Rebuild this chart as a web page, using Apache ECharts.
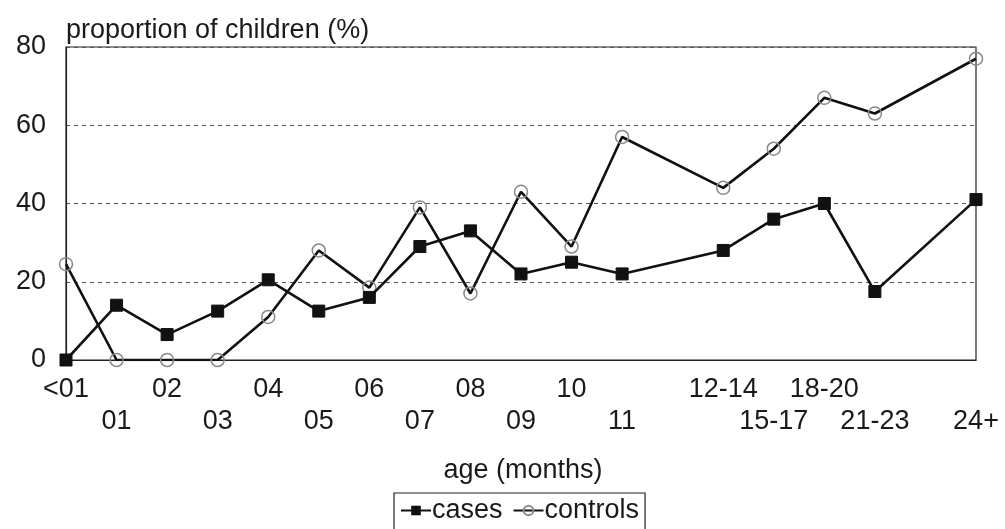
<!DOCTYPE html>
<html>
<head>
<meta charset="utf-8">
<script src="https://cdn.jsdelivr.net/npm/echarts@6/dist/echarts.min.js"></script>
<style>
  html, body { margin: 0; padding: 0; background: #fff; }
  #chart { width: 1005px; height: 529px; }
</style>
</head>
<body>
<div id="chart"></div>
<script>
// Age bands on the x axis; empty strings are unlabelled spacer slots
const ageBands = ['<01', '01', '02', '03', '04', '05', '06', '07', '08', '09', '10', '11',
                  '', '12-14', '15-17', '18-20', '21-23', '', '24+'];
// Proportion of children (%) per age band
const cases    = [0, 14, 6.5, 12.5, 20.5, 12.5, 16, 29, 33, 22, 25, 22,
                  null, 28, 36, 40, 17.5, null, 41];
const controls = [24.5, 0, 0, 0, 11, 28, 18.5, 39, 17, 43, 29, 57,
                  null, 44, 54, 67, 63, null, 77];
const yTicks = [0, 20, 40, 60, 80];

// labels drawn on the second (lower) row under the axis
const lowerRow = new Set(['01', '03', '05', '07', '09', '11', '15-17', '21-23', '24+']);

const font = '"Liberation Sans", Arial, sans-serif';
const ink = '#1a1a1a';

const chart = echarts.init(document.getElementById('chart'), null, { renderer: 'canvas' });
chart.setOption({
  backgroundColor: '#fff',
  animation: false,
  textStyle: { fontFamily: font, color: ink },
  grid: {
    left: 66, right: 29, top: 47, bottom: 169,
    show: true, borderColor: '#222', borderWidth: 1.2, backgroundColor: 'transparent'
  },
  xAxis: {
    type: 'category',
    data: ageBands,
    boundaryGap: false,
    name: 'age (months)',
    nameLocation: 'middle',
    nameGap: 97,
    nameTextStyle: { fontSize: 27, color: ink, fontFamily: font, padding: [0, 0, 0, 4] },
    axisLine: { show: true, lineStyle: { color: '#222', width: 1.2 } },
    axisTick: { show: false },
    splitLine: { show: false },
    axisLabel: {
      interval: 0,
      margin: 14,
      fontSize: 27,
      lineHeight: 32,
      color: ink,
      fontFamily: font,
      formatter: function (v) { return lowerRow.has(v) ? '\n' + v : v; }
    }
  },
  yAxis: {
    type: 'value',
    min: yTicks[0],
    max: yTicks[yTicks.length - 1],
    interval: 20,
    name: 'proportion of children (%)',
    nameLocation: 'end',
    nameGap: 16,
    nameTextStyle: { fontSize: 27, color: ink, fontFamily: font, align: 'left', verticalAlign: 'middle' },
    axisLine: { show: true, lineStyle: { color: '#222', width: 1.2 } },
    axisTick: { show: false },
    axisLabel: { margin: 20, fontSize: 27, color: ink, fontFamily: font },
    splitLine: { show: true, lineStyle: { color: '#555', type: [4, 4], width: 1 } }
  },
  legend: {
    data: ['cases', 'controls'],
    left: 394,
    top: 493,
    orient: 'horizontal',
    itemWidth: 30,
    itemHeight: 12,
    itemGap: 10,
    padding: [4, 6, 6, 6],
    borderColor: '#222',
    borderWidth: 1.2,
    borderRadius: 0,
    textStyle: { fontSize: 27, color: ink, fontFamily: font, padding: [0, 0, 0, -4] }
  },
  series: [
    {
      name: 'cases',
      type: 'line',
      data: cases,
      connectNulls: true,
      symbol: 'rect',
      symbolSize: 12,
      lineStyle: { color: '#111', width: 2.6 },
      itemStyle: { color: '#111', borderColor: '#111' },
      z: 3
    },
    {
      name: 'controls',
      type: 'line',
      data: controls,
      connectNulls: true,
      symbol: 'circle',
      symbolSize: 13,
      lineStyle: { color: '#111', width: 2.6 },
      itemStyle: { color: 'rgba(255,255,255,0)', borderColor: '#8a8a8a', borderWidth: 1.5 },
      z: 2
    }
  ]
});
</script>
</body>
</html>
